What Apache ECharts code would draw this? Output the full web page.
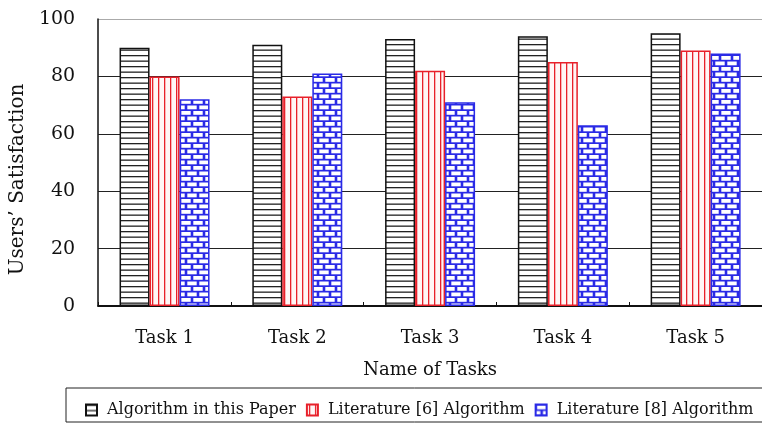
<!DOCTYPE html>
<html>
<head>
<meta charset="utf-8">
<script src="https://cdn.jsdelivr.net/npm/echarts@6/dist/echarts.min.js"></script>
<style>
  html, body { margin: 0; padding: 0; background: #fff; }
  #chart { width: 762px; height: 426px; }
</style>
</head>
<body>
<div id="chart"></div>
<script>
// Task categories and satisfaction scores per algorithm
const tasks = ['Task 1', 'Task 2', 'Task 3', 'Task 4', 'Task 5'];
const seriesNames = ['Algorithm in this Paper', 'Literature [6] Algorithm', 'Literature [8] Algorithm'];
const paperScores = [90, 91, 93, 94, 95];
const lit6Scores = [80, 73, 82, 85, 89];
const lit8Scores = [72, 81, 71, 63, 88];
const yTicks = { min: 0, max: 100, step: 20 };

const FONT = '"DejaVu Serif", "Liberation Serif", serif';

// Small canvas tiles used as repeating hatch fills
function tile(w, h, draw) {
  const c = document.createElement('canvas');
  c.width = w; c.height = h;
  const g = c.getContext('2d');
  draw(g, w, h);
  return c;
}
const hStripes = tile(4, 11, (g, w, h) => {
  g.fillStyle = '#fff'; g.fillRect(0, 0, w, h);
  g.fillStyle = '#222';
  g.fillRect(0, 0, w, 1.3);
  g.fillRect(0, 5.5, w, 1.3);
});
const vStripes = tile(6, 4, (g, w, h) => {
  g.fillStyle = '#fff6f6'; g.fillRect(0, 0, w, h);
  g.fillStyle = '#e8202a';
  g.fillRect(2, 0, 1.3, h);
});
const bricks = tile(12, 11, (g, w, h) => {
  g.fillStyle = '#2a2ae6'; g.fillRect(0, 0, w, h);
  g.fillStyle = '#fff';
  g.fillRect(1.3, 1.0, 9.4, 3.8);
  g.fillRect(-4.7, 6.5, 9.4, 3.8);
  g.fillRect(7.3, 6.5, 9.4, 3.8);
});

const chart = echarts.init(document.getElementById('chart'), null, { renderer: 'canvas' });

function barSeries(name, data, pattern, border) {
  return {
    name: name,
    type: 'bar',
    data: data,
    barWidth: 30,
    barGap: '0%',
    itemStyle: {
      color: { image: pattern, repeat: 'repeat' },
      borderColor: border,
      borderWidth: 1.5
    }
  };
}

chart.setOption({
  animation: false,
  backgroundColor: '#fff',
  grid: { left: 95, top: 19, bottom: 120, right: -8, containLabel: false },
  graphic: [{
    type: 'rect',
    shape: { x: 66, y: 388, width: 720, height: 34 },
    style: { fill: '#fff', stroke: '#222', lineWidth: 1 },
    z: -1
  }],
  legend: {
    left: 80,
    top: 396,
    width: 1000,
    itemWidth: 11,
    itemHeight: 11,
    itemGap: 10,
    icon: 'rect',
    textStyle: { fontFamily: FONT, fontSize: 16, color: '#111', lineHeight: 18, padding: [0, 0, 0, 5] },
    data: seriesNames
  },
  xAxis: {
    type: 'category',
    data: tasks,
    name: 'Name of Tasks',
    nameLocation: 'middle',
    nameGap: 55,
    nameTextStyle: { fontFamily: FONT, fontSize: 18, color: '#111' },
    axisLine: { lineStyle: { color: '#111', width: 2 } },
    axisTick: { show: true, inside: true, length: 4, lineStyle: { color: '#111' } },
    axisLabel: { fontFamily: FONT, fontSize: 18, color: '#111', margin: 23 }
  },
  yAxis: {
    type: 'value',
    min: yTicks.min,
    max: yTicks.max,
    interval: yTicks.step,
    name: 'Users\u2019 Satisfaction',
    nameLocation: 'middle',
    nameRotate: 90,
    nameGap: 66,
    nameTextStyle: { fontFamily: FONT, fontSize: 20, color: '#111', padding: [0, 34, 0, 0] },
    axisLine: { show: true, lineStyle: { color: '#111', width: 1.5 } },
    axisTick: { show: false },
    axisLabel: { fontFamily: FONT, fontSize: 19, color: '#111', margin: 23 },
    splitLine: { show: true, lineStyle: { color: ['#222', '#222', '#222', '#222', '#222', '#aaa'], width: 1 } }
  },
  series: [
    barSeries(seriesNames[0], paperScores, hStripes, '#111'),
    barSeries(seriesNames[1], lit6Scores, vStripes, '#e8202a'),
    barSeries(seriesNames[2], lit8Scores, bricks, '#2a2ae6')
  ]
});
</script>
</body>
</html>
